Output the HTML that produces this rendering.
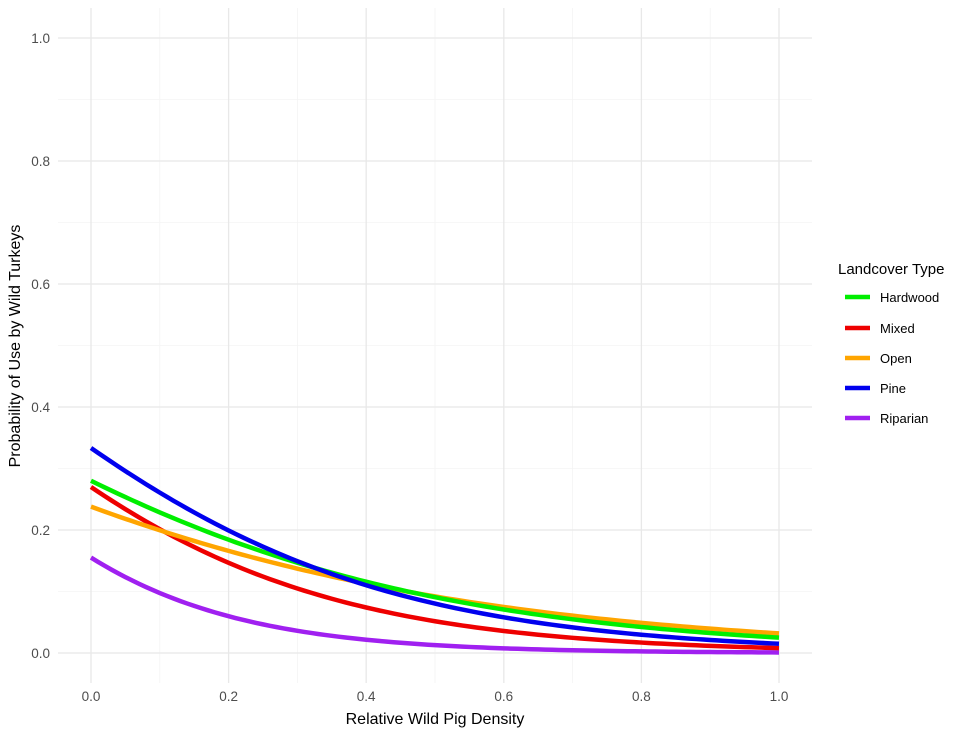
<!DOCTYPE html>
<html><head><meta charset="utf-8"><style>
html,body{margin:0;padding:0;background:#fff;}
svg{display:block;font-family:"Liberation Sans",Arial,sans-serif;}
</style></head><body>
<svg id="s" width="965" height="732" viewBox="0 0 965 732" xmlns="http://www.w3.org/2000/svg">
<g id="grid"></g>
<g id="curves" fill="none" stroke-width="4.5" stroke-linecap="butt"></g>
<g fill="#4d4d4d" font-size="13.5">
<text x="50" y="658" text-anchor="end">0.0</text>
<text x="50" y="412" text-anchor="end">0.4</text>
<text x="50" y="535" text-anchor="end">0.2</text>
<text x="50" y="289" text-anchor="end">0.6</text>
<text x="50" y="166" text-anchor="end">0.8</text>
<text x="50" y="43" text-anchor="end">1.0</text>
<text x="91" y="701" text-anchor="middle">0.0</text>
<text x="228.6" y="701" text-anchor="middle">0.2</text>
<text x="366.2" y="701" text-anchor="middle">0.4</text>
<text x="503.8" y="701" text-anchor="middle">0.6</text>
<text x="641.4" y="701" text-anchor="middle">0.8</text>
<text x="779" y="701" text-anchor="middle">1.0</text>
</g>
<text x="435" y="724" text-anchor="middle" font-size="16" fill="#000">Relative Wild Pig Density</text>
<text transform="translate(20,346) rotate(-90)" text-anchor="middle" font-size="16" fill="#000">Probability of Use by Wild Turkeys</text>
<text x="838" y="274" font-size="15" fill="#000">Landcover Type</text>
<g font-size="13" fill="#000" stroke-width="4.5">
<line x1="845" x2="870" y1="297" y2="297" stroke="#00ee00"/><text x="880" y="302">Hardwood</text>
<line x1="845" x2="870" y1="328" y2="328" stroke="#ee0000"/><text x="880" y="333">Mixed</text>
<line x1="845" x2="870" y1="358" y2="358" stroke="#ffa500"/><text x="880" y="363">Open</text>
<line x1="845" x2="870" y1="388" y2="388" stroke="#0000ee"/><text x="880" y="393">Pine</text>
<line x1="845" x2="870" y1="418" y2="418" stroke="#a020f0"/><text x="880" y="423">Riparian</text>
</g>
</svg>
<script>
var NS="http://www.w3.org/2000/svg";
function X(v){return 91+v*688;}function Y(v){return 653-v*615;}
var g=document.getElementById("grid");
function ln(x1,y1,x2,y2,c,w){var l=document.createElementNS(NS,"line");l.setAttribute("x1",x1);l.setAttribute("y1",y1);l.setAttribute("x2",x2);l.setAttribute("y2",y2);l.setAttribute("stroke",c);l.setAttribute("stroke-width",w);g.appendChild(l);}
for(var i=1;i<=9;i+=2){var v=i/10;ln(X(v),8,X(v),683,"#f4f4f4",0.8);ln(58,Y(v),812,Y(v),"#f4f4f4",0.8);}
for(var i=0;i<=10;i+=2){var v=i/10;ln(X(v),8,X(v),683,"#e8e8e8",1.3);ln(58,Y(v),812,Y(v),"#e8e8e8",1.3);}
var cv=document.getElementById("curves");
var S=[["#00ee00",-0.944,-2.72],["#ee0000",-0.995,-3.83],["#ffa500",-1.164,-2.25],["#0000ee",-0.693,-3.49],["#a020f0",-1.695,-5.3]];
var order=[4,1,2,0,3];
order.forEach(function(k){var s=S[k];var d="";for(var j=0;j<=100;j++){var x=j/100;var p=1/(1+Math.exp(-(s[1]+s[2]*x)));d+=(j?"L":"M")+X(x).toFixed(2)+","+Y(p).toFixed(2);}
var p=document.createElementNS(NS,"path");p.setAttribute("d",d);p.setAttribute("stroke",s[0]);cv.appendChild(p);});
</script>
</body></html>
